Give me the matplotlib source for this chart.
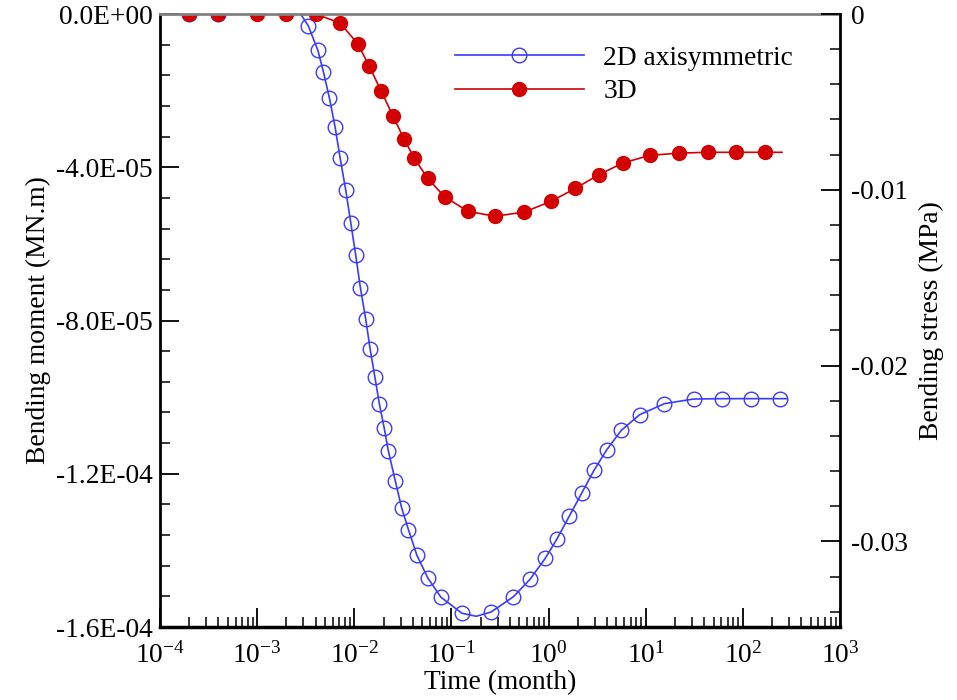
import numpy as np
import matplotlib
matplotlib.use('Agg')
import matplotlib.pyplot as plt
from matplotlib.ticker import LogLocator, LogFormatterMathtext, FixedLocator, NullFormatter

plt.rcParams['font.family'] = ['Liberation Serif', 'DejaVu Serif']
plt.rcParams['mathtext.fontset'] = 'custom'
plt.rcParams['mathtext.rm'] = 'Liberation Serif'
plt.rcParams['mathtext.it'] = 'Liberation Serif:italic'
plt.rcParams['mathtext.bf'] = 'Liberation Serif:bold'
plt.rcParams['axes.unicode_minus'] = False

# bending moment history, 2D axisymmetric model (months, MN.m)
t_2d = [1e-4, 2e-4, 4e-4, 1e-3, 2.8e-3, 3.36e-3, 4.21e-3, 4.81e-3, 5.54e-3, 6.34e-3,
        7.14e-3, 8.17e-3, 9.2e-3, 1.035e-2, 1.155e-2, 1.31e-2, 1.455e-2, 1.63e-2,
        1.81e-2, 2.03e-2, 2.24e-2, 2.65e-2, 3.08e-2, 3.61e-2, 4.40e-2, 5.71e-2,
        7.78e-2, 0.128, 0.18, 0.255, 0.435, 0.647, 0.923, 1.22, 1.64, 2.20, 2.95,
        3.98, 5.59, 8.64, 15.6, 31.1, 61.3, 121, 239, 280]
m_2d = [0, 0, 0, 0.9e-6, 0, -3.06e-6, -9.41e-6, -1.508e-5, -2.188e-5, -2.946e-5,
        -3.75e-5, -4.60e-5, -5.45e-5, -6.30e-5, -7.14e-5, -7.96e-5, -8.74e-5, -9.48e-5,
        -1.017e-4, -1.080e-4, -1.140e-4, -1.220e-4, -1.290e-4, -1.346e-4, -1.412e-4, -1.472e-4,
        -1.522e-4, -1.564e-4, -1.572e-4, -1.561e-4, -1.521e-4, -1.475e-4, -1.421e-4, -1.370e-4,
        -1.310e-4, -1.250e-4, -1.190e-4, -1.137e-4, -1.087e-4, -1.046e-4, -1.017e-4, -1.005e-4,
        -1.004e-4, -1.004e-4, -1.004e-4, -1.004e-4]
no_mark_2d = [0, 4, 28, 45]

# bending moment history, 3D model
t_3d = [1e-4, 2e-4, 4e-4, 1e-3, 2e-3, 4e-3, 7.15e-3, 1.09e-2, 1.43e-2, 1.9e-2,
        2.5e-2, 3.26e-2, 4.16e-2, 5.7e-2, 8.5e-2, 0.148, 0.28, 0.56, 1.06, 1.89,
        3.27, 5.8, 11.0, 22.0, 43.3, 86, 171, 253]
m_3d = [0, 0, 0, 0, 0, 0, -2.35e-6, -7.84e-6, -1.37e-5, -2.02e-5,
        -2.66e-5, -3.27e-5, -3.77e-5, -4.29e-5, -4.77e-5, -5.15e-5, -5.28e-5, -5.17e-5,
        -4.89e-5, -4.55e-5, -4.20e-5, -3.89e-5, -3.69e-5, -3.63e-5, -3.61e-5, -3.61e-5,
        -3.61e-5, -3.61e-5]
no_mark_3d = [0, 27]

m_ticks = [0, -4e-5, -8e-5, -1.2e-4, -1.6e-4]
m_labels = ['0.0E+00', '-4.0E-05', '-8.0E-05', '-1.2E-04', '-1.6E-04']
s_ticks = [0, -0.01, -0.02, -0.03]
s_labels = ['0', '-0.01', '-0.02', '-0.03']
stress_per_moment = 217.9

fs = 19.8
blue = '#3a3aff'
red = '#d20000'

fig = plt.figure(figsize=(9.57, 7.0), dpi=100)
ax = fig.add_axes([160/957, 1-627/700, 680/957, 613/700])

mk2 = [i not in no_mark_2d for i in range(len(t_2d))]
mk3 = [i not in no_mark_3d for i in range(len(t_3d))]
ax.plot(t_2d, m_2d, color=blue, lw=1.2, marker='o', ms=10.5, mfc='none',
        mec=blue, mew=1.0, markevery=mk2, label='2D axisymmetric')
ax.plot(t_3d, m_3d, color=red, lw=1.2, marker='o', ms=10, mfc=red,
        mec=red, markevery=mk3, label='3D')

ax.set_xscale('log')
ax.set_xlim(1e-4, 1e3)
ax.set_ylim(-1.6e-4, 0)
ax.xaxis.set_major_locator(LogLocator(base=10, numticks=20))
ax.xaxis.set_major_formatter(LogFormatterMathtext())
ax.xaxis.set_minor_locator(LogLocator(base=10, subs=np.arange(2, 10), numticks=20))
ax.xaxis.set_minor_formatter(NullFormatter())
ax.set_yticks(m_ticks)
ax.set_yticklabels(m_labels)
ax.yaxis.set_minor_locator(FixedLocator(np.arange(-1.6e-4, 1e-6, 0.8e-5)))

ax.tick_params(axis='both', which='major', direction='in', length=14, width=1.3,
               labelsize=fs, top=False, right=False)
ax.tick_params(axis='both', which='minor', direction='in', length=7, width=1.1,
               top=False, right=False)
ax.tick_params(axis='y', which='major', pad=5)
ax.tick_params(axis='x', which='major', pad=11)

ax.set_xlabel('Time (month)', fontsize=fs, labelpad=1)
ax.set_ylabel('Bending moment (MN.m)', fontsize=fs, labelpad=4)

# secondary axis: bending stress from the same moment scale
ax2 = ax.twinx()
ax2.set_ylim(-1.6e-4*stress_per_moment, 0)
ax2.set_yticks(s_ticks)
ax2.set_yticklabels(s_labels)
ax2.yaxis.set_minor_locator(FixedLocator(np.arange(-0.034, 1e-6, 0.002)))
ax2.tick_params(axis='y', which='major', direction='in', length=14, width=1.3,
                labelsize=fs, pad=8)
ax2.tick_params(axis='y', which='minor', direction='in', length=7, width=1.1)
ax2.set_ylabel('Bending stress (MPa)', fontsize=fs, labelpad=8)

for s in ['top', 'left', 'bottom']:
    ax2.spines[s].set_visible(False)
ax.spines['right'].set_visible(False)
ax2.spines['right'].set_linewidth(2)
ax.spines['left'].set_linewidth(2)
ax.spines['bottom'].set_linewidth(2.5)
ax.spines['top'].set_color('#808080')
ax.spines['top'].set_linewidth(2)

ax.legend(loc='upper left', bbox_to_anchor=(0.405, 0.98), frameon=False,
          fontsize=fs, handlelength=4.7, handletextpad=0.7, labelspacing=0.3,
          borderaxespad=0.3)

fig.savefig('out.png', dpi=100)
